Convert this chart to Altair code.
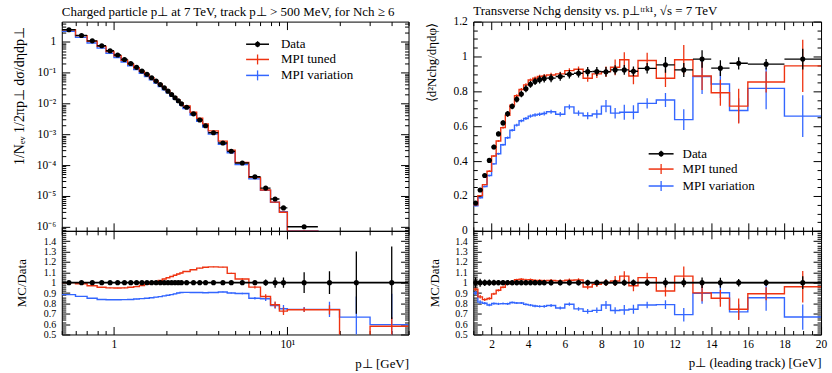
import json
import altair as alt
import pandas as pd

FONT = "Liberation Serif"
RED = "#EE3311"
BLUE = "#3366FF"
BLACK = "#000000"
MAJ, MIN = 8, 4

SERIES = ["Data", "MPI tuned", "MPI variation"]
TITLE_L = "Charged particle p⊥ at 7 TeV, track p⊥ > 500 MeV, for Nch ≥ 6"
TITLE_R = "Transverse Nchg density vs. p⊥ᵗʳᵏ¹, √s = 7 TeV"
YTITLE_L = "1/Nₑᵥ 1/2πp⊥ dσ/dηdp⊥"
YTITLE_R = "⟨d²Nchg/dηdφ⟩"
RATIO_TITLE = "MC/Data"
XTITLE_L = "p⊥   [GeV]"
XTITLE_R = "p⊥ (leading track) [GeV]"

# ---------------- left panel: charged particle pT ----------------
L_edges = [0.5, 0.6, 0.7, 0.8, 0.9, 1.0, 1.1, 1.2, 1.3, 1.4, 1.5, 1.6, 1.7, 1.8, 1.9,
           2.0, 2.1, 2.2, 2.3, 2.4, 2.5, 2.75, 3.0, 3.25, 3.5, 4.0, 4.5, 5.0, 6.0, 7.0,
           8.0, 9.0, 10.0, 15.0, 20.0, 30.0, 50.0]
L_data = [2.45, 1.6, 1.07, 0.74, 0.51, 0.37, 0.265, 0.197, 0.148, 0.113,
          0.088, 0.068, 0.053, 0.041, 0.032, 0.025, 0.0195, 0.0153, 0.0122, 0.0097,
          0.0075, 0.0046, 0.0029, 0.0019, 0.00112, 0.00052, 0.00028, 0.000117, 4.2e-5, 1.8e-5,
          8.0e-6, 4.1e-6, 1.0e-6, 2.2e-7, 4e-8, 6e-9]
L_data_rel = [0.005, 0.005, 0.005, 0.005, 0.005, 0.005, 0.005, 0.005, 0.005, 0.005,
              0.005, 0.005, 0.005, 0.005, 0.005, 0.005, 0.005, 0.005, 0.005, 0.005,
              0.005, 0.005, 0.005, 0.005, 0.005, 0.006, 0.007, 0.01, 0.015, 0.03,
              0.05, 0.05, 0.1, 0.11, 0.3, 0.35]
L_tuned_ratio = [1.0, 0.99, 0.97, 0.955, 0.95, 0.948, 0.95, 0.955, 0.962, 0.972,
                 0.985, 1.0, 1.01, 1.022, 1.035, 1.047, 1.06, 1.072, 1.083, 1.093,
                 1.108, 1.125, 1.14, 1.148, 1.152, 1.15, 1.09, 1.035, 0.957, 0.867,
                 0.787, 0.725, 0.738, 0.738, 0.3, 0.58]
L_var_ratio = [0.885, 0.868, 0.85, 0.838, 0.835, 0.835, 0.836, 0.838, 0.842, 0.846,
               0.85, 0.855, 0.86, 0.865, 0.872, 0.878, 0.885, 0.892, 0.9, 0.905,
               0.906, 0.905, 0.905, 0.903, 0.905, 0.91, 0.9, 0.895, 0.85, 0.845,
               0.78, 0.748, 0.742, 0.742, 0.667, 0.595]
L_tuned_rel = [0.003, 0.003, 0.003, 0.003, 0.003, 0.003, 0.003, 0.003, 0.003, 0.003,
               0.003, 0.003, 0.003, 0.003, 0.003, 0.003, 0.003, 0.003, 0.003, 0.003,
               0.003, 0.003, 0.003, 0.003, 0.003, 0.004, 0.005, 0.008, 0.015, 0.025,
               0.04, 0.05, 0.03, 0.06, 0.0, 0.15]
L_var_rel = [0.003, 0.003, 0.003, 0.003, 0.003, 0.003, 0.003, 0.003, 0.003, 0.003,
             0.003, 0.003, 0.003, 0.003, 0.003, 0.003, 0.003, 0.003, 0.003, 0.003,
             0.003, 0.003, 0.003, 0.003, 0.003, 0.004, 0.005, 0.008, 0.015, 0.025,
             0.04, 0.05, 0.03, 0.1, 0.3, 0.5]

# ---------------- right panel: transverse Nchg density ----------------
R_edges = [1.0, 1.25, 1.5, 1.75, 2.0, 2.25, 2.5, 2.75, 3.0, 3.25, 3.5, 3.75, 4.0, 4.25,
           4.5, 4.75, 5.0, 5.5, 6.0, 6.5, 7.0, 7.5, 8.0, 8.5, 9.0, 9.5, 10.0, 11.0, 12.0,
           13.0, 14.0, 15.0, 16.0, 18.0, 20.0]
R_data = [0.16, 0.234, 0.317, 0.404, 0.481, 0.556, 0.619, 0.671, 0.714, 0.754,
          0.785, 0.815, 0.84, 0.857, 0.867, 0.873, 0.876, 0.885, 0.898, 0.904,
          0.913, 0.914, 0.912, 0.923, 0.923, 0.915, 0.932, 0.952, 0.923, 0.985,
          0.933, 0.961, 0.956, 0.985]
R_data_err = [0.008, 0.009, 0.01, 0.012, 0.013, 0.014, 0.015, 0.016, 0.017, 0.018,
              0.019, 0.02, 0.02, 0.021, 0.022, 0.022, 0.024, 0.024, 0.025, 0.025,
              0.026, 0.026, 0.027, 0.027, 0.028, 0.028, 0.03, 0.045, 0.04, 0.05,
              0.045, 0.035, 0.03, 0.06]
R_tuned = [0.15, 0.202, 0.265, 0.342, 0.429, 0.515, 0.592, 0.663, 0.721, 0.775,
           0.811, 0.837, 0.865, 0.875, 0.885, 0.888, 0.894, 0.9, 0.919, 0.927,
           0.875, 0.9, 0.913, 0.938, 0.981, 0.888, 0.977, 0.875, 0.981, 0.888,
           0.792, 0.715, 0.854, 0.946]
R_tuned_err = [0.003, 0.004, 0.004, 0.005, 0.005, 0.006, 0.006, 0.007, 0.007, 0.008,
               0.008, 0.009, 0.009, 0.01, 0.01, 0.011, 0.012, 0.013, 0.014, 0.015,
               0.02, 0.024, 0.03, 0.045, 0.043, 0.048, 0.045, 0.05, 0.085, 0.08,
               0.075, 0.1, 0.06, 0.15]
R_var = [0.144, 0.19, 0.254, 0.317, 0.384, 0.442, 0.494, 0.534, 0.577, 0.606,
         0.631, 0.644, 0.658, 0.664, 0.669, 0.673, 0.683, 0.669, 0.711, 0.675,
         0.66, 0.67, 0.715, 0.675, 0.68, 0.68, 0.731, 0.75, 0.638, 0.885,
         0.842, 0.69, 0.817, 0.658]
R_var_err = [0.003, 0.004, 0.004, 0.005, 0.005, 0.006, 0.006, 0.007, 0.007, 0.008,
             0.008, 0.009, 0.009, 0.01, 0.01, 0.011, 0.012, 0.013, 0.014, 0.015,
             0.02, 0.024, 0.035, 0.03, 0.043, 0.04, 0.03, 0.04, 0.06, 0.1,
             0.08, 0.07, 0.12, 0.12]

# ---------------- tick definitions ----------------
L_X_MAJOR = [1.0, 10.0]
L_X_MINOR = [0.5, 0.6, 0.7, 0.8, 0.9, 2.0, 3.0, 4.0, 5.0, 6.0, 7.0, 8.0, 9.0, 20.0, 30.0, 40.0, 50.0]
L_X_LABELS = {1.0: "1", 10.0: "10¹"}
L_Y_MAJOR = [1e-6, 1e-5, 1e-4, 1e-3, 1e-2, 1e-1, 1.0]
L_Y_MINOR = [float("%de%d" % (m, k)) for k in range(-7, 1) for m in range(2, 10)]
L_Y_LABELS = {1e-6: "10⁻⁶", 1e-5: "10⁻⁵", 1e-4: "10⁻⁴", 1e-3: "10⁻³",
              1e-2: "10⁻²", 1e-1: "10⁻¹", 1.0: "1"}
RAT_MAJOR = [0.5, 0.6, 0.7, 0.8, 0.9, 1.0, 1.1, 1.2, 1.3, 1.4]
RAT_MINOR = [round(0.5 + 0.02 * i, 2) for i in range(51)]
RAT_LABELS = {0.5: "0.5", 0.6: "0.6", 0.7: "0.7", 0.8: "0.8", 0.9: "0.9", 1.0: "1",
              1.1: "1.1", 1.2: "1.2", 1.3: "1.3", 1.4: "1.4"}
R_Y_MAJOR = [0.0, 0.2, 0.4, 0.6, 0.8, 1.0, 1.2]
R_Y_MINOR = [round(0.05 * i, 2) for i in range(25)]
R_Y_LABELS = {0.0: "0", 0.2: "0.2", 0.4: "0.4", 0.6: "0.6", 0.8: "0.8", 1.0: "1", 1.2: "1.2"}
R_X_MAJOR = [2.0, 4.0, 6.0, 8.0, 10.0, 12.0, 14.0, 16.0, 18.0, 20.0]
R_X_MINOR = [round(1.0 + 0.5 * i, 1) for i in range(39)]
R_X_LABELS = {v: "%d" % v for v in R_X_MAJOR}

L_XD = [0.5, 50.0]
L_YD = [7.4e-7, 4.5]
R_XD = [1.0, 20.0]
R_YD = [0.0, 1.2]
RAT_D = [0.5, 1.5]

W_L, W_R, H_MAIN, H_RAT = 348, 349, 210, 104


def tick_axis(orient, majors, minors, labels=None, label_pad=0, title=None, tkw=None, lsize=11.5,
              tsize=13):
    vals = sorted(set(majors) | set(minors))
    test = "indexof(" + json.dumps(majors) + ", datum.value) >= 0"
    kw = dict(orient=orient, values=vals, domain=False, grid=False, ticks=True,
              tickSize={"condition": {"test": test, "value": -MAJ}, "value": -MIN},
              tickColor=BLACK, tickWidth=1, labelOverlap=False, labelFlush=False,
              labelFont=FONT, labelFontSize=lsize, labelColor=BLACK)
    if labels:
        expr = "''"
        for v in sorted(labels):
            expr = "datum.value == %s ? '%s' : (%s)" % (json.dumps(v), labels[v], expr)
        kw.update(labels=True, labelExpr=expr, labelPadding=label_pad)
    else:
        kw.update(labels=False)
    if title:
        kw.update(title=title, titleFont=FONT, titleFontSize=tsize, titleFontWeight="normal",
                  titleColor=BLACK, **(tkw or {}))
    else:
        kw.update(title=None)
    return alt.Axis(**kw)


def axis_layer(xs, ys, xd, yd, xax, yax):
    df = pd.DataFrame({"x": [xd[0]], "y": [yd[0]]})
    return alt.Chart(df).mark_point(opacity=0).encode(
        x=alt.X("x:Q", scale=xs, axis=xax), y=alt.Y("y:Q", scale=ys, axis=yax))


def step_df(edges, vals):
    return pd.DataFrame({"x": list(edges), "y": list(vals) + [vals[-1]]})


def bins_df(edges, vals, errs):
    n = len(vals)
    return pd.DataFrame({
        "xc": [(edges[i] + edges[i + 1]) / 2 for i in range(n)],
        "xlo": edges[:-1], "xhi": edges[1:], "y": vals,
        "ylo": [v - e for v, e in zip(vals, errs)],
        "yhi": [v + e for v, e in zip(vals, errs)],
    })


def step_layer(df, xs, ys, color, sw=1.4):
    return alt.Chart(df).mark_line(interpolate="step-after", clip=True, color=color,
                                   strokeWidth=sw).encode(
        x=alt.X("x:Q", scale=xs, axis=None), y=alt.Y("y:Q", scale=ys, axis=None))


def vbar_layer(df, xs, ys, color, sw=1.3):
    return alt.Chart(df).mark_rule(clip=True, color=color, strokeWidth=sw).encode(
        x=alt.X("xc:Q", scale=xs, axis=None), y=alt.Y("ylo:Q", scale=ys, axis=None), y2="yhi:Q")


def hbar_layer(df, xs, ys, color, sw=1.4):
    return alt.Chart(df).mark_rule(clip=True, color=color, strokeWidth=sw).encode(
        x=alt.X("xlo:Q", scale=xs, axis=None), x2="xhi:Q", y=alt.Y("y:Q", scale=ys, axis=None))


def dot_layer(df, xs, ys):
    return alt.Chart(df).mark_circle(clip=True, color=BLACK, opacity=1, size=26).encode(
        x=alt.X("xc:Q", scale=xs, axis=None), y=alt.Y("y:Q", scale=ys, axis=None))


def legend_layers(x0, x1, xt, ys):
    one = pd.DataFrame({"a": [0]})
    xm = (x0 + x1) / 2
    out = []
    for name, color, y in zip(SERIES, [BLACK, RED, BLUE], ys):
        out.append(alt.Chart(one).mark_rule(color=color, strokeWidth=1.5).encode(
            x=alt.value(x0), x2=alt.value(x1), y=alt.value(y)))
        out.append(alt.Chart(one).mark_rule(color=color, strokeWidth=1.3).encode(
            x=alt.value(xm), y=alt.value(y - (3 if color == BLACK else 5)),
            y2=alt.value(y + (3 if color == BLACK else 5))))
        if color == BLACK:
            out.append(alt.Chart(one).mark_circle(color=BLACK, opacity=1, size=26).encode(
                x=alt.value(xm), y=alt.value(y)))
        out.append(alt.Chart(one).mark_text(text=name, align="left", baseline="middle",
                                            font=FONT, fontSize=13, color=BLACK).encode(
            x=alt.value(xt), y=alt.value(y)))
    return out


def panel_title(text):
    return alt.TitleParams(text=text, anchor="start", frame="group", font=FONT, fontSize=13,
                           fontWeight="normal", color=BLACK, offset=-2)


# ---------------- left main ----------------
xsL = alt.Scale(type="log", domain=L_XD)
ysL = alt.Scale(type="log", domain=L_YD)
ysRat = alt.Scale(domain=RAT_D, nice=False, zero=False)

L_tuned = [d * r for d, r in zip(L_data, L_tuned_ratio)]
L_var = [d * r for d, r in zip(L_data, L_var_ratio)]
dL = bins_df(L_edges, L_data, [d * e for d, e in zip(L_data, L_data_rel)])
tL = bins_df(L_edges, L_tuned, [v * e for v, e in zip(L_tuned, L_tuned_rel)])
vL = bins_df(L_edges, L_var, [v * e for v, e in zip(L_var, L_var_rel)])

Lmain = alt.layer(
    axis_layer(xsL, ysL, L_XD, L_YD,
               tick_axis("bottom", L_X_MAJOR, L_X_MINOR),
               tick_axis("left", L_Y_MAJOR, L_Y_MINOR, L_Y_LABELS, label_pad=14, title=YTITLE_L,
                         tkw=dict(titleX=-42, titleY=5, titleAngle=270, titleAlign="right",
                                  titleBaseline="middle"), tsize=14)),
    axis_layer(xsL, ysL, L_XD, L_YD,
               tick_axis("top", L_X_MAJOR, L_X_MINOR),
               tick_axis("right", L_Y_MAJOR, L_Y_MINOR)),
    step_layer(step_df(L_edges, L_var), xsL, ysL, BLUE),
    vbar_layer(vL, xsL, ysL, BLUE),
    step_layer(step_df(L_edges, L_tuned), xsL, ysL, RED),
    vbar_layer(tL, xsL, ysL, RED),
    hbar_layer(dL, xsL, ysL, BLACK),
    vbar_layer(dL, xsL, ysL, BLACK),
    dot_layer(dL, xsL, ysL),
    *legend_layers(185, 208, 220, [22.7, 38, 54]),
).resolve_axis(x="independent", y="independent").properties(
    width=W_L, height=H_MAIN, title=panel_title(TITLE_L))

# ---------------- left ratio ----------------
dLr = bins_df(L_edges, [1.0] * len(L_data), L_data_rel)
tLr = bins_df(L_edges, L_tuned_ratio, [r * e for r, e in zip(L_tuned_ratio, L_tuned_rel)])
vLr = bins_df(L_edges, L_var_ratio, [r * e for r, e in zip(L_var_ratio, L_var_rel)])
oneL = pd.DataFrame({"x": [L_edges[0], L_edges[-1]], "y": [1.0, 1.0]})

Lratio = alt.layer(
    axis_layer(xsL, ysRat, L_XD, RAT_D,
               tick_axis("bottom", L_X_MAJOR, L_X_MINOR, L_X_LABELS, label_pad=12, title=XTITLE_L,
                         tkw=dict(titleX=W_L, titleY=29, titleAngle=0, titleAlign="right",
                                  titleBaseline="middle")),
               tick_axis("left", RAT_MAJOR, RAT_MINOR, RAT_LABELS, label_pad=14, title=RATIO_TITLE,
                         tkw=dict(titleX=-40, titleY=H_RAT / 2, titleAngle=270, titleAlign="center",
                                  titleBaseline="middle"), lsize=10)),
    axis_layer(xsL, ysRat, L_XD, RAT_D,
               tick_axis("top", L_X_MAJOR, L_X_MINOR),
               tick_axis("right", RAT_MAJOR, RAT_MINOR)),
    step_layer(step_df(L_edges, L_var_ratio), xsL, ysRat, BLUE),
    vbar_layer(vLr, xsL, ysRat, BLUE),
    step_layer(step_df(L_edges, L_tuned_ratio), xsL, ysRat, RED),
    vbar_layer(tLr, xsL, ysRat, RED),
    alt.Chart(oneL).mark_line(color=BLACK, strokeWidth=1.8, clip=True).encode(
        x=alt.X("x:Q", scale=xsL, axis=None), y=alt.Y("y:Q", scale=ysRat, axis=None)),
    vbar_layer(dLr, xsL, ysRat, BLACK),
    dot_layer(dLr, xsL, ysRat),
).resolve_axis(x="independent", y="independent").properties(width=W_L, height=H_RAT)

# ---------------- right main ----------------
xsR = alt.Scale(domain=R_XD, nice=False, zero=False)
ysR = alt.Scale(domain=R_YD, nice=False, zero=False)
dR = bins_df(R_edges, R_data, R_data_err)
tR = bins_df(R_edges, R_tuned, R_tuned_err)
vR = bins_df(R_edges, R_var, R_var_err)

Rmain = alt.layer(
    axis_layer(xsR, ysR, R_XD, R_YD,
               tick_axis("bottom", R_X_MAJOR, R_X_MINOR),
               tick_axis("left", R_Y_MAJOR, R_Y_MINOR, R_Y_LABELS, label_pad=14, title=YTITLE_R,
                         tkw=dict(titleX=-42, titleY=1, titleAngle=270, titleAlign="right",
                                  titleBaseline="middle"))),
    axis_layer(xsR, ysR, R_XD, R_YD,
               tick_axis("top", R_X_MAJOR, R_X_MINOR),
               tick_axis("right", R_Y_MAJOR, R_Y_MINOR)),
    step_layer(step_df(R_edges, R_var), xsR, ysR, BLUE),
    vbar_layer(vR, xsR, ysR, BLUE),
    step_layer(step_df(R_edges, R_tuned), xsR, ysR, RED),
    vbar_layer(tR, xsR, ysR, RED),
    hbar_layer(dR, xsR, ysR, BLACK),
    vbar_layer(dR, xsR, ysR, BLACK),
    dot_layer(dR, xsR, ysR),
    *legend_layers(176, 201, 210, [132.7, 148, 165]),
).resolve_axis(x="independent", y="independent").properties(
    width=W_R, height=H_MAIN, title=panel_title(TITLE_R))

# ---------------- right ratio ----------------
R_tuned_ratio = [m / d for m, d in zip(R_tuned, R_data)]
R_var_ratio = [m / d for m, d in zip(R_var, R_data)]
dRr = bins_df(R_edges, [1.0] * len(R_data), [e / d for e, d in zip(R_data_err, R_data)])
tRr = bins_df(R_edges, R_tuned_ratio, [e / d for e, d in zip(R_tuned_err, R_data)])
vRr = bins_df(R_edges, R_var_ratio, [e / d for e, d in zip(R_var_err, R_data)])
oneR = pd.DataFrame({"x": [R_edges[0], R_edges[-1]], "y": [1.0, 1.0]})

Rratio = alt.layer(
    axis_layer(xsR, ysRat, R_XD, RAT_D,
               tick_axis("bottom", R_X_MAJOR, R_X_MINOR, R_X_LABELS, label_pad=12, title=XTITLE_R,
                         tkw=dict(titleX=W_R, titleY=28, titleAngle=0, titleAlign="right",
                                  titleBaseline="middle")),
               tick_axis("left", RAT_MAJOR, RAT_MINOR, RAT_LABELS, label_pad=14, title=RATIO_TITLE,
                         tkw=dict(titleX=-39, titleY=H_RAT / 2, titleAngle=270, titleAlign="center",
                                  titleBaseline="middle"), lsize=10)),
    axis_layer(xsR, ysRat, R_XD, RAT_D,
               tick_axis("top", R_X_MAJOR, R_X_MINOR),
               tick_axis("right", RAT_MAJOR, RAT_MINOR)),
    step_layer(step_df(R_edges, R_var_ratio), xsR, ysRat, BLUE),
    vbar_layer(vRr, xsR, ysRat, BLUE),
    step_layer(step_df(R_edges, R_tuned_ratio), xsR, ysRat, RED),
    vbar_layer(tRr, xsR, ysRat, RED),
    alt.Chart(oneR).mark_line(color=BLACK, strokeWidth=1.8, clip=True).encode(
        x=alt.X("x:Q", scale=xsR, axis=None), y=alt.Y("y:Q", scale=ysRat, axis=None)),
    hbar_layer(dRr, xsR, ysRat, BLACK),
    vbar_layer(dRr, xsR, ysRat, BLACK),
    dot_layer(dRr, xsR, ysRat),
).resolve_axis(x="independent", y="independent").properties(width=W_R, height=H_RAT)

chart = alt.concat(Lmain, Rmain, Lratio, Rratio, columns=2,
                   spacing={"row": 0, "column": 65}, bounds="flush").properties(
    padding={"left": 12, "top": 3, "right": 4, "bottom": 4}
).configure_view(stroke=BLACK, strokeWidth=1)

chart.save("out.html", embed_options={"renderer": "svg", "actions": False})
